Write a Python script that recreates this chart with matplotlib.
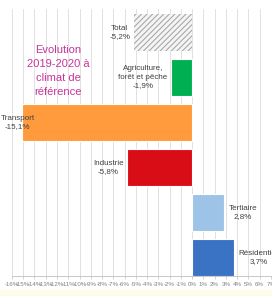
import matplotlib.pyplot as plt
from matplotlib.patches import Rectangle

# données
secteurs = ["Total", "Agriculture,\nforêt et pêche", "Transport", "Industrie", "Tertiaire", "Résidentiel"]
valeurs = [-5.2, -1.9, -15.1, -5.8, 2.8, 3.7]
couleurs = ["#f4f4f4", "#00b050", "#ff9b3d", "#d90d15", "#9dc3e6", "#3a73c4"]
ticks = list(range(-16, 8))
tick_labels = [f"{t}%" for t in ticks]

plt.rcParams["font.family"] = ["Liberation Sans", "DejaVu Sans"]
plt.rcParams["hatch.color"] = "#a0a0a0"
plt.rcParams["hatch.linewidth"] = 0.7

fig = plt.figure(figsize=(2.72, 2.96), dpi=100)
fig.patches.append(Rectangle((0, 0), 1, 0.02, transform=fig.transFigure,
                             color="#fdfbe9", zorder=0))
ax = fig.add_axes([0.044, 0.068, 0.952, 0.902])

pos = list(range(len(secteurs) - 1, -1, -1))
for i, (nom, v, c) in enumerate(zip(secteurs, valeurs, couleurs)):
    y = pos[i]
    if nom == "Total":
        ax.barh(y, v, height=0.82, color=c, edgecolor="#a0a0a0", linewidth=0,
                hatch="//////", zorder=2)
    else:
        ax.barh(y, v, height=0.82, color=c, edgecolor="white", linewidth=0.8, zorder=2)
    lab = f"{nom}\n{v:.1f}%".replace(".", ",")
    if v < 0:
        if v < -14:
            ax.text(v - 0.4, y, lab, ha="center", va="center", fontsize=5.8,
                    color="#404040", zorder=3, linespacing=1.3)
        else:
            ax.text(v - 0.3, y, lab, ha="right", va="center", fontsize=5.8,
                    color="#404040", zorder=3, multialignment="center", linespacing=1.3)
    else:
        ax.text(v + 0.45, y, lab, ha="left", va="center", fontsize=5.8,
                color="#404040", zorder=3, multialignment="center", linespacing=1.3)

ax.text(-11.9, 4.15, "Evolution\n2019-2020 à\nclimat de\nréférence", ha="center", va="center",
        fontsize=8.0, color="#c8339a", linespacing=1.5, zorder=3)

ax.set_xlim(-16, 7)
ax.set_ylim(-0.41, 5.52)
ax.set_xticks(ticks)
ax.set_xticklabels(tick_labels, fontsize=4.4, color="#808080")
ax.set_yticks([])
ax.grid(axis="x", color="#dcdcdc", linewidth=0.6, zorder=0)
for s in ["top", "right", "left"]:
    ax.spines[s].set_visible(False)
ax.spines["bottom"].set_color("#bfbfbf")
ax.spines["bottom"].set_linewidth(0.6)
ax.tick_params(axis="x", length=2, width=0.5, color="#bfbfbf", pad=2.5)

plt.savefig("out.png", dpi=100)
